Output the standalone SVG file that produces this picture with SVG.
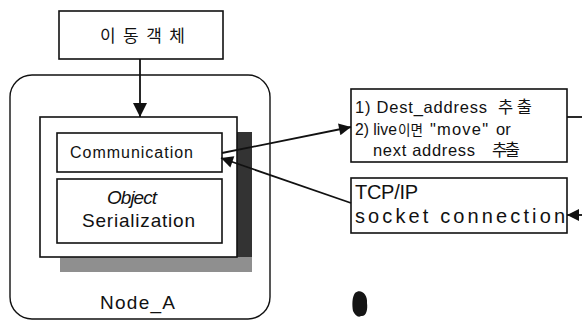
<svg xmlns="http://www.w3.org/2000/svg" width="582" height="327" viewBox="0 0 582 327">
  <style>
    .box { fill: #fff; stroke: #111; stroke-width: 1.6; }
    .frame { fill: #fff; stroke: #111; stroke-width: 1.4; }
    .txt { font-family: "Liberation Sans", Arial, "Noto Sans CJK KR", sans-serif; fill: #111; }
    .kr { font-family: "Noto Sans CJK KR", "Liberation Sans", sans-serif; fill: #111; }
    .wire { fill: none; stroke: #111; stroke-width: 1.8; }
  </style>
  <defs>
    <marker id="head" viewBox="0 0 10 10" refX="10" refY="5" markerWidth="17" markerHeight="12" markerUnits="userSpaceOnUse" orient="auto">
      <path d="M0,0 L10,5 L0,10 z" fill="#111"/>
    </marker>
    <marker id="headBig" viewBox="0 0 10 10" refX="10" refY="5" markerWidth="18" markerHeight="14" markerUnits="userSpaceOnUse" orient="auto">
      <path d="M0,0 L10,5 L0,10 z" fill="#111"/>
    </marker>
  </defs>

  <rect width="582" height="327" fill="#fff"/>

  <!-- mobile object -->
  <g id="mobile-object">
    <rect class="box" x="59" y="11" width="164" height="48"/>
    <text class="kr" x="100" y="42" font-size="17" textLength="85">이동객체</text>
  </g>

  <!-- host node with its components -->
  <g id="node-a">
    <rect class="frame" x="10" y="75" width="260" height="244" rx="22" ry="22"/>
    <text class="txt" x="100" y="309" font-size="19" textLength="75">Node_A</text>
  </g>

  <g id="runtime">
    <!-- drop shadow -->
    <rect x="237" y="132" width="15" height="140" fill="#333"/>
    <rect x="60" y="257" width="192" height="15" fill="#8f8f8f"/>
    <rect class="box" x="40" y="117" width="197" height="140"/>
  </g>

  <g id="communication">
    <rect class="box" x="57" y="133" width="165" height="39"/>
    <text class="txt" x="70" y="158" font-size="16" textLength="123">Communication</text>
  </g>

  <g id="serialization">
    <rect class="box" x="57" y="179" width="165" height="64"/>
    <text class="txt" x="107" y="204" font-size="19" font-style="italic" textLength="50">Object</text>
    <text class="txt" x="82" y="227" font-size="19" textLength="113">Serialization</text>
  </g>

  <!-- address lookup -->
  <g id="address">
    <rect class="box" x="351" y="89" width="216" height="73"/>
    <text class="txt" font-size="16.5">
      <tspan x="355" y="113" textLength="132">1) Dest_address</tspan>
      <tspan class="kr" x="498" y="113" textLength="34">추출</tspan>
    </text>
    <text class="txt" font-size="16.5">
      <tspan x="355" y="135" textLength="42" lengthAdjust="spacingAndGlyphs">2) live</tspan>
      <tspan class="kr" x="398" y="135" font-size="14" textLength="25" lengthAdjust="spacingAndGlyphs">이면</tspan>
      <tspan x="430" y="135" textLength="58">"move"</tspan>
      <tspan x="496" y="135">or</tspan>
    </text>
    <text class="txt" font-size="16.5">
      <tspan x="373" y="156" textLength="102">next address</tspan>
      <tspan class="kr" x="492" y="156" textLength="28">추출</tspan>
    </text>
  </g>

  <!-- transport -->
  <g id="tcp">
    <rect class="box" x="351" y="178" width="216" height="55"/>
    <text class="txt" x="355" y="199" font-size="20" textLength="63">TCP/IP</text>
    <text class="txt" x="355" y="223" font-size="20" textLength="210">socket connection</text>
  </g>

  <!-- stray mark -->
  <path d="M355,293 C361,288 368,295 367,303 C368,310 366,317 361,316 C358,318 355,315 353,311 C352,305 352,297 355,293 z" fill="#151515"/>

  <g id="connectors">
    <line class="wire" x1="140" y1="59" x2="140" y2="117" stroke-width="2.4" marker-end="url(#headBig)"/>
    <line class="wire" x1="222" y1="153" x2="351" y2="127" marker-end="url(#head)"/>
    <line class="wire" x1="351" y1="203" x2="221" y2="158" marker-end="url(#head)"/>
    <line class="wire" x1="567" y1="117" x2="582" y2="117"/>
    <line class="wire" x1="585" y1="215" x2="567" y2="215" marker-end="url(#head)"/>
  </g>
</svg>
